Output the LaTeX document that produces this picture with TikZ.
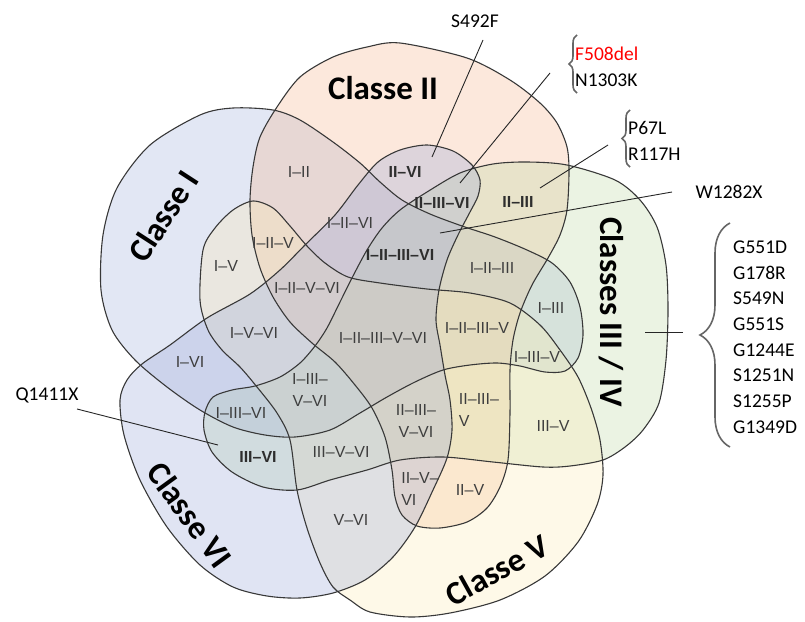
\documentclass[tikz,border=0pt]{standalone}
\usepackage{fontspec}
\setmainfont{Liberation Sans}
\newfontfamily\calibri{Carlito}
\usetikzlibrary{decorations.pathreplacing}

\definecolor{setI}{RGB}{160,175,218}
\definecolor{setII}{RGB}{244,180,140}
\definecolor{setIII}{RGB}{188,216,162}
\definecolor{setV}{RGB}{252,234,178}
\definecolor{setVI}{RGB}{152,166,216}
\definecolor{regtext}{RGB}{62,62,62}

\begin{document}
\begin{tikzpicture}[x=1pt,y=-1pt,
    area/.style={fill=#1, fill opacity=0.3},
    set/.style={draw=black!78, line width=1.1pt},
    reg/.style={font=\fontsize{16}{22}\selectfont, text=regtext, inner sep=0pt},
    hit/.style={font=\fontsize{16}{22}\selectfont\bfseries, text=black!82, inner sep=0pt},
    cls/.style={font=\calibri\fontsize{33}{33}\selectfont\bfseries, inner sep=0pt},
    mut/.style={font=\calibri\fontsize{19.5}{25.7}\selectfont, inner sep=0pt},
    ptr/.style={draw=black!85, line width=0.9pt},
    brc/.style={draw=black!60, line width=1.6pt, decorate, decoration={brace, amplitude=#1}},
    brc/.default=8pt]
  \useasboundingbox (0,0) rectangle (805,621);

  % the five classes
  \path[area=setI, save path=\shI] plot[smooth cycle] coordinates {(200,115) (233,108) (273,110) (300,120) (333,142) (360,163) (380,182) (402,200) (430,214) (462,226) (495,237) (527,250) (552,263) (570,282) (580,307) (583,335) (578,358) (565,371) (545,372) (520,366) (497,363) (470,365) (443,370) (415,382) (387,397) (360,413) (330,430) (295,437) (265,435) (233,427) (200,410) (167,387) (135,360) (112,330) (101,290) (103,235) (117,188) (150,145)};
  \path[area=setII, save path=\shII] plot[smooth cycle] coordinates {(367,47) (400,43) (467,58) (510,80) (540,103) (557,123) (567,147) (569,172) (567,210) (560,235) (548,258) (532,285) (520,313) (513,340) (510,370) (510,413) (508,460) (500,487) (487,508) (467,522) (440,528) (417,526) (402,515) (395,497) (392,470) (385,437) (372,408) (355,385) (335,362) (312,343) (290,322) (273,297) (260,268) (252,235) (250,200) (253,167) (260,137) (277,107) (300,77) (333,57)};
  \path[area=setIII, save path=\shIII] plot[smooth cycle] coordinates {(205,412) (213,397) (232,390) (255,386) (280,377) (300,363) (315,346) (327,328) (340,302) (353,276) (367,250) (382,228) (400,210) (427,192) (460,173) (493,164) (527,162) (567,165) (615,180) (640,200) (657,227) (666,265) (668,310) (666,360) (659,403) (643,430) (625,447) (603,460) (570,466) (543,467) (493,462) (443,457) (400,460) (367,470) (330,480) (297,490) (263,487) (232,472) (212,452) (204,430)};
  \path[area=setV, save path=\shV] plot[smooth cycle] coordinates {(203,250) (215,228) (233,210) (253,201) (273,208) (290,226) (307,246) (325,263) (348,277) (380,283) (427,289) (470,293) (510,303) (540,325) (560,350) (578,377) (591,408) (600,440) (603,475) (597,505) (578,542) (545,576) (500,600) (450,613) (410,617) (370,612) (350,600) (333,587) (320,563) (307,528) (297,490) (290,440) (277,413) (257,387) (240,367) (222,350) (208,330) (200,300)};
  \path[area=setVI, save path=\shVI] plot[smooth cycle] coordinates {(400,150) (427,145) (453,151) (472,165) (480,180) (478,196) (470,212) (458,235) (447,260) (439,290) (436,320) (440,345) (445,375) (450,400) (452,430) (447,458) (433,490) (415,527) (393,557) (365,580) (333,593) (300,598) (267,596) (233,587) (200,565) (167,527) (140,480) (124,435) (120,400) (127,380) (142,364) (170,345) (207,318) (250,294) (280,270) (305,245) (335,215) (358,185) (378,162)};
  \draw[set, use path=\shI];
  \draw[set, use path=\shII];
  \draw[set, use path=\shIII];
  \draw[set, use path=\shV];
  \draw[set, use path=\shVI];

  % class names
  \node[cls] (cI) at (163,216) [rotate=57] {Classe I};
  \node[cls] (cII) at (383,88) {Classe II};
  \node[cls] (cIII) at (611,312) [rotate=-90] {Classes III / IV};
  \node[cls] (cV) at (497,570) [rotate=29] {Classe V};
  \node[cls] (cVI) at (190,515) [rotate=-54] {Classe VI};

  % intersections
  \node[reg] (r12) at (299,172) {I–II};
  \node[hit] (r26) at (405,172) {II–VI};
  \node[reg] (r126) at (350,223) {I–II–VI};
  \node[hit] (r236) at (442,203) {II–III–VI};
  \node[hit] (r23) at (518,202) {II–III};
  \node[reg] (r125) at (273,243) {I–II–V};
  \node[reg] (r15) at (226,266) {I–V};
  \node[hit] (r1236) at (400,255) {I–II–III–VI};
  \node[reg] (r123) at (492,268) {I–II–III};
  \node[reg] (r1256) at (307,288) {I–II–V–VI};
  \node[reg] (r13) at (551,308) {I–III};
  \node[reg] (r1235) at (477,328) {I–II–III–V};
  \node[reg] (r156) at (254,333) {I–V–VI};
  \node[reg] (r12356) at (383,338) {I–II–III–V–VI};
  \node[reg] (r135) at (537,357) {I–III–V};
  \node[reg] (r16) at (190,362) {I–VI};
  \node[reg, align=center] (r1356) at (310,390) {I–III–\\V–VI};
  \node[reg] (r136) at (241,413) {I–III–VI};
  \node[reg, align=center] (r2356) at (416,421) {II–III–\\V–VI};
  \node[reg, align=left] (r235) at (479,410) {II–III–\\V};
  \node[reg] (r35) at (553,426) {III–V};
  \node[hit] (r36) at (258,457) {III–VI};
  \node[reg] (r356) at (341,452) {III–V–VI};
  \node[reg, align=left] (r256) at (420,489) {II–V–\\VI};
  \node[reg] (r25) at (470,490) {II–V};
  \node[reg] (r56) at (351,520) {V–VI};

  % mutations
  \node[mut] (s492f) at (475,21) {S492F};
  \node[mut, anchor=west] (f508) at (575,54) {\textcolor{red}{F508del}};
  \node[mut, anchor=west] (n1303) at (575,80) {N1303K};
  \node[mut, anchor=west] (p67) at (628,128) {P67L};
  \node[mut, anchor=west] (r117) at (628,154) {R117H};
  \node[mut] (w1282) at (729,192) {W1282X};
  \node[mut, anchor=west, align=left] (gating) at (733,337) {G551D\\G178R\\S549N\\G551S\\G1244E\\S1251N\\S1255P\\G1349D};
  \node[mut] (q1411) at (47,395) {Q1411X};

  \draw[brc] (577,93) -- (577,35);
  \draw[brc] (630,167) -- (630,110);
  \draw[brc=30pt] (730,447) -- (730,223);

  % pointers
  \coordinate (a1) at (483,40);   \coordinate (b1) at (432,157);
  \coordinate (a2) at (550,73);   \coordinate (b2) at (460,183);
  \coordinate (a3) at (608,145);  \coordinate (b3) at (540,188);
  \coordinate (a4) at (672,192);  \coordinate (b4) at (440,233);
  \coordinate (a5) at (683,332);  \coordinate (b5) at (645,332);
  \coordinate (a6) at (77,409);   \coordinate (b6) at (218,445);
  \draw[ptr] (a1) -- (b1);
  \draw[ptr] (a2) -- (b2);
  \draw[ptr] (a3) -- (b3);
  \draw[ptr] (a4) -- (b4);
  \draw[ptr] (a5) -- (b5);
  \draw[ptr] (a6) -- (b6);
\end{tikzpicture}
\end{document}
